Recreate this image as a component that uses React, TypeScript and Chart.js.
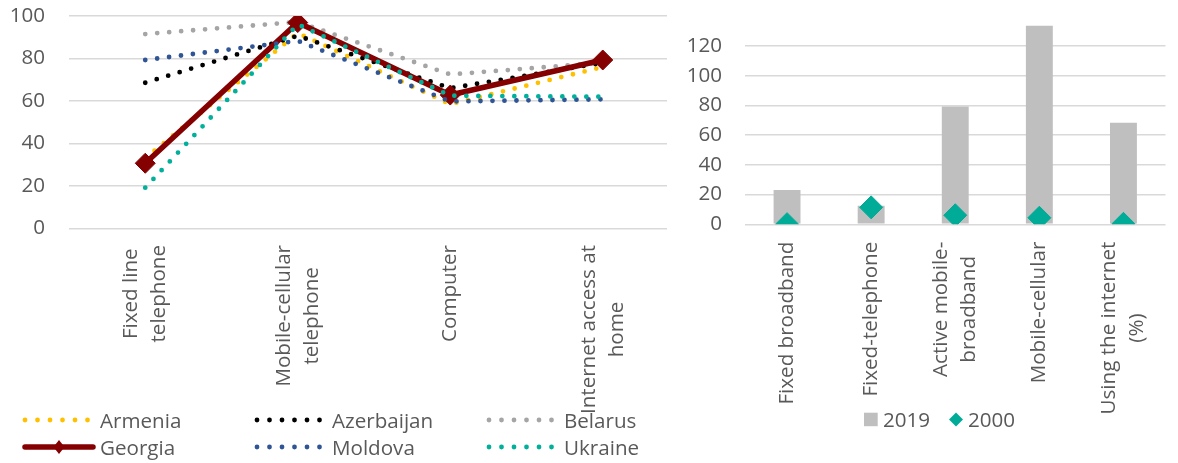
import React, { useEffect, useRef } from "react";
import { Chart, registerables } from "chart.js";

Chart.register(...registerables);

const FONT_FAMILY = "'Open Sans', sans-serif";
const FONT_SIZE = 20.6;
const LINE_H = 28;
const TEXT_COLOR = "#595959";
const GRID_COLOR = "#D9D9D9";

// ---- Left chart data ----
const lineCategories = [
  ["Fixed line", "telephone"],
  ["Mobile-cellular", "telephone"],
  ["Computer"],
  ["Internet access at", "home"],
];
const countries = ["Armenia", "Azerbaijan", "Belarus", "Georgia", "Moldova", "Ukraine"];
const armenia = [33, 92, 58.5, 76];
const azerbaijan = [68.6, 90.7, 66, 78];
const belarus = [91.5, 97.2, 72.5, 78];
const georgia = [30.7, 96.9, 62.8, 79.3];
const moldova = [79.3, 88.3, 59.8, 60.8];
const ukraine = [19.2, 96.1, 62.5, 62];
const lineTicks = [0, 20, 40, 60, 80, 100];

// ---- Right chart data ----
const barCategories = [
  ["Fixed broadband"],
  ["Fixed-telephone"],
  ["Active mobile-", "broadband"],
  ["Mobile-cellular"],
  ["Using the internet", "(%)"],
];
const seriesNames = ["2019", "2000"];
const values2019 = [23.1, 12.5, 79.2, 133.7, 68.3];
const values2000 = [0.1, 11.4, 6.1, 4.4, 0.3];
const barTicks = [0, 20, 40, 60, 80, 100, 120];

const lineSeries = [armenia, azerbaijan, belarus, georgia, moldova, ukraine];
const lineColors = ["#FFC000", "#000000", "#A5A5A5", "#850000", "#2F5597", "#00B09B"];
const BAR_COLOR = "#BFBFBF";
const DIAMOND_COLOR = "#00AC98";

const fontStr = `${FONT_SIZE}px ${FONT_FAMILY}`;

function xLabelPlugin(gap: number) {
  return {
    id: "xLabels",
    afterDraw(chart: any) {
      const xs = chart.scales.x;
      const ctx = chart.ctx as CanvasRenderingContext2D;
      const top = chart.chartArea.bottom + gap;
      ctx.save();
      ctx.font = fontStr;
      ctx.fillStyle = TEXT_COLOR;
      ctx.textAlign = "center";
      ctx.textBaseline = "middle";
      (chart.data.labels as any[]).forEach((lbl, i) => {
        const lines: string[] = Array.isArray(lbl) ? lbl : [lbl];
        const x = xs.getPixelForValue(i);
        const maxW = Math.max(...lines.map((l) => ctx.measureText(l).width));
        ctx.save();
        ctx.translate(x, top);
        ctx.rotate(-Math.PI / 2);
        lines.forEach((l, j) => {
          ctx.fillText(l, -maxW / 2, (j - (lines.length - 1) / 2) * LINE_H);
        });
        ctx.restore();
      });
      ctx.restore();
    },
  };
}

const lineLegendPlugin = {
  id: "lineLegend",
  afterDraw(chart: any) {
    const ctx = chart.ctx as CanvasRenderingContext2D;
    ctx.save();
    chart.data.datasets.forEach((ds: any, i: number) => {
      const col = i % 3;
      const row = Math.floor(i / 3);
      const x0 = 22 + col * 232;
      const y = 420 + row * 27;
      ctx.strokeStyle = ds.borderColor;
      ctx.fillStyle = ds.borderColor;
      if (ds.pointRadius > 0) {
        ctx.setLineDash([]);
        ctx.lineCap = "round";
        ctx.lineWidth = 5.5;
        ctx.beginPath();
        ctx.moveTo(x0 + 3, y);
        ctx.lineTo(x0 + 71, y);
        ctx.stroke();
        const cx = x0 + 37;
        ctx.beginPath();
        ctx.moveTo(cx, y - 7);
        ctx.lineTo(cx + 5.5, y);
        ctx.lineTo(cx, y + 7);
        ctx.lineTo(cx - 5.5, y);
        ctx.closePath();
        ctx.fill();
      } else {
        ctx.setLineDash([0, 12.5]);
        ctx.lineCap = "round";
        ctx.lineWidth = 4.8;
        ctx.beginPath();
        ctx.moveTo(x0 + 3, y);
        ctx.lineTo(x0 + 66, y);
        ctx.stroke();
      }
      ctx.setLineDash([]);
      ctx.font = fontStr;
      ctx.fillStyle = TEXT_COLOR;
      ctx.textAlign = "left";
      ctx.textBaseline = "alphabetic";
      ctx.fillText(ds.label, x0 + 78, y + 7.5);
    });
    ctx.restore();
  },
};

const barLegendPlugin = {
  id: "barLegend",
  afterDraw(chart: any) {
    const ctx = chart.ctx as CanvasRenderingContext2D;
    const ox = -667;
    ctx.save();
    ctx.font = fontStr;
    ctx.textAlign = "left";
    ctx.textBaseline = "alphabetic";
    // 2019 square
    ctx.fillStyle = BAR_COLOR;
    ctx.fillRect(864 + ox, 412.7, 13.7, 13.5);
    ctx.fillStyle = TEXT_COLOR;
    ctx.fillText(chart.data.datasets[0].label, 883 + ox, 426.5);
    // 2000 diamond
    const cx = 956 + ox;
    const cy = 419.5;
    ctx.fillStyle = DIAMOND_COLOR;
    ctx.beginPath();
    ctx.moveTo(cx, cy - 7);
    ctx.lineTo(cx + 7, cy);
    ctx.lineTo(cx, cy + 7);
    ctx.lineTo(cx - 7, cy);
    ctx.closePath();
    ctx.fill();
    ctx.fillStyle = TEXT_COLOR;
    ctx.fillText(chart.data.datasets[1].label, 968 + ox, 426.5);
    ctx.restore();
  },
};

export default function App() {
  const leftRef = useRef<HTMLCanvasElement>(null);
  const rightRef = useRef<HTMLCanvasElement>(null);

  useEffect(() => {
    const tickFont = { family: FONT_FAMILY, size: FONT_SIZE };

    const left = new Chart(leftRef.current as HTMLCanvasElement, {
      type: "line",
      data: {
        labels: lineCategories as any,
        datasets: countries.map((name, i) => {
          const isGeorgia = name === "Georgia";
          return {
            label: name,
            data: lineSeries[i],
            borderColor: lineColors[i],
            backgroundColor: lineColors[i],
            borderWidth: isGeorgia ? 5.5 : 4.8,
            borderDash: isGeorgia ? [] : [0, 12],
            borderCapStyle: "round",
            borderJoinStyle: "round",
            tension: 0,
            pointStyle: "rectRot",
            pointRadius: isGeorgia ? 10 : 0,
            pointHoverRadius: isGeorgia ? 10 : 0,
            pointBorderWidth: 1,
            pointBorderColor: lineColors[i],
            pointBackgroundColor: lineColors[i],
            order: countries.length - 1 - i,
          } as any;
        }),
      },
      options: {
        responsive: false,
        animation: false,
        layout: { padding: { top: 16, right: 7, left: 0, bottom: 0 } },
        plugins: { legend: { display: false }, tooltip: { enabled: false } },
        scales: {
          x: {
            type: "category",
            offset: true,
            grid: { display: false },
            border: { display: false },
            ticks: { display: false },
            afterFit: (s: any) => {
              s.height = 463 - 228.5;
              s.paddingLeft = 0;
              s.paddingRight = 0;
            },
          },
          y: {
            min: 0,
            max: 100,
            ticks: {
              stepSize: 20,
              color: TEXT_COLOR,
              font: tickFont,
              padding: 24,
            },
            afterBuildTicks: (s: any) => {
              s.ticks = lineTicks.map((v) => ({ value: v }));
            },
            grid: { color: GRID_COLOR, lineWidth: 1.5, drawTicks: false },
            border: { display: false },
            afterFit: (s: any) => {
              s.width = 69;
              s.paddingTop = 0;
              s.paddingBottom = 0;
            },
          },
        },
      } as any,
      plugins: [xLabelPlugin(16.5), lineLegendPlugin],
    });

    const right = new Chart(rightRef.current as HTMLCanvasElement, {
      type: "bar",
      data: {
        labels: barCategories as any,
        datasets: [
          {
            type: "bar",
            label: seriesNames[0],
            data: values2019,
            backgroundColor: BAR_COLOR,
            borderWidth: 0,
            categoryPercentage: 1,
            barPercentage: 0.32,
            order: 1,
          },
          {
            type: "line",
            label: seriesNames[1],
            data: values2000,
            showLine: false,
            pointStyle: "rectRot",
            pointRadius: 11.5,
            pointHoverRadius: 11.5,
            pointBorderWidth: 1,
            pointBorderColor: DIAMOND_COLOR,
            pointBackgroundColor: DIAMOND_COLOR,
            borderColor: DIAMOND_COLOR,
            backgroundColor: DIAMOND_COLOR,
            order: 0,
          } as any,
        ],
      },
      options: {
        responsive: false,
        animation: false,
        layout: { padding: { top: 23.7, right: 0, left: 0, bottom: 0 } },
        plugins: { legend: { display: false }, tooltip: { enabled: false } },
        scales: {
          x: {
            type: "category",
            offset: true,
            grid: { display: false },
            border: { display: false },
            ticks: { display: false },
            afterFit: (s: any) => {
              s.height = 463 - 224.3;
              s.paddingLeft = 0;
              s.paddingRight = 0;
            },
          },
          y: {
            min: 0,
            max: 135,
            ticks: {
              stepSize: 20,
              color: TEXT_COLOR,
              font: tickFont,
              padding: 23,
            },
            afterBuildTicks: (s: any) => {
              s.ticks = barTicks.map((v) => ({ value: v }));
            },
            grid: { color: GRID_COLOR, lineWidth: 1.5, drawTicks: false },
            border: { display: false },
            afterFit: (s: any) => {
              s.width = 78;
              s.paddingTop = 0;
              s.paddingBottom = 0;
            },
          },
        },
      } as any,
      plugins: [xLabelPlugin(17.4), barLegendPlugin],
    });

    return () => {
      left.destroy();
      right.destroy();
    };
  }, []);

  return (
    <div
      style={{
        position: "absolute",
        left: 0,
        top: 0,
        width: 1178,
        height: 463,
        background: "#ffffff",
        overflow: "hidden",
      }}
    >
      <canvas
        ref={leftRef}
        width={690}
        height={463}
        style={{ position: "absolute", left: 0, top: 0, display: "block" }}
      />
      <div
        style={{
          position: "absolute",
          left: 667,
          top: 0,
          width: 511,
          height: 463,
          background: "#ffffff",
        }}
      >
        <canvas ref={rightRef} width={511} height={463} style={{ display: "block" }} />
      </div>
    </div>
  );
}
